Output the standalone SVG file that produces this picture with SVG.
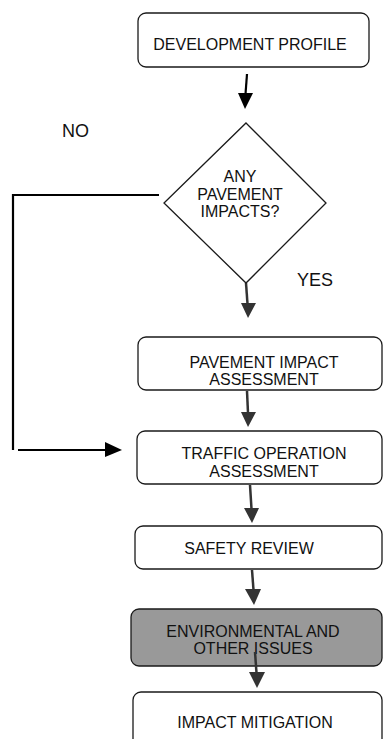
<svg xmlns="http://www.w3.org/2000/svg" width="384" height="739" viewBox="0 0 384 739">
<style>
.box{fill:#fff;stroke:#1a1a1a;stroke-width:1.3}
.gray{fill:#999999}
.t{font-family:"Liberation Sans",Arial,sans-serif;font-size:16px;fill:#111;text-anchor:middle}
.lbl{font-family:"Liberation Sans",Arial,sans-serif;font-size:18px;fill:#111}
.ln{stroke:#333;stroke-width:2.5;fill:none}
.hd{fill:#333}
.lnk{stroke:#000;stroke-width:2.2;fill:none}
.hdk{fill:#000}
</style>
<rect width="384" height="739" fill="#fff"/>
<g id="connectors">
<line class="lnk" x1="247" y1="74" x2="245.5" y2="94"/>
<polygon class="hdk" points="238,93 253,93 245,109"/>
<line class="ln" x1="246" y1="283" x2="247.5" y2="304"/>
<polygon class="hd" points="241,303 256,303 248,318"/>
<line class="ln" x1="247" y1="391" x2="248" y2="413"/>
<polygon class="hd" points="241,412 256,412 248,427"/>
<line class="ln" x1="250" y1="485" x2="251.5" y2="509"/>
<polygon class="hd" points="244,508 259,508 252,523"/>
<line class="ln" x1="252" y1="570" x2="253.5" y2="590"/>
<polygon class="hd" points="245,589 261,589 254,605"/>
<polyline class="lnk" points="159,195 13,195 13,450"/>
<line class="lnk" x1="18" y1="450" x2="106" y2="450"/>
<polygon class="hdk" points="105,442 105,457 122,450"/>
</g>
<g id="n-dev">
<rect class="box" x="138" y="13" width="231" height="54" rx="8"/>
<text class="t" x="250" y="50">DEVELOPMENT PROFILE</text>
</g>
<g id="n-decision">
<polygon class="box" points="246,123 326,203 246,283 164,203"/>
<text class="t" x="240" y="182">ANY</text>
<text class="t" x="240" y="199.5">PAVEMENT</text>
<text class="t" x="240" y="217">IMPACTS?</text>
</g>
<g id="label-no"><text class="lbl" x="62" y="137">NO</text></g>
<g id="label-yes"><text class="lbl" x="297" y="286">YES</text></g>
<g id="n-pavement">
<rect class="box" x="138" y="337" width="244" height="53" rx="8"/>
<text class="t" x="264" y="368">PAVEMENT IMPACT</text>
<text class="t" x="264" y="385">ASSESSMENT</text>
</g>
<g id="n-traffic">
<rect class="box" x="137" y="431" width="245" height="53" rx="8"/>
<text class="t" x="264" y="459">TRAFFIC OPERATION</text>
<text class="t" x="264" y="477">ASSESSMENT</text>
</g>
<g id="n-safety">
<rect class="box" x="135" y="526" width="247" height="43" rx="8"/>
<text class="t" x="249" y="554">SAFETY REVIEW</text>
</g>
<g id="n-env">
<rect class="box gray" x="131" y="609" width="251" height="57" rx="8"/>
<text class="t" x="253" y="637">ENVIRONMENTAL AND</text>
<text class="t" x="253" y="654">OTHER ISSUES</text>
</g>
<g id="connector-env">
<line class="ln" x1="255" y1="652" x2="256.5" y2="673"/>
<polygon class="hd" points="249,672 265,672 257,688"/>
</g>
<g id="n-mitigation">
<rect class="box" x="133" y="692" width="249" height="62" rx="8"/>
<text class="t" x="255" y="728">IMPACT MITIGATION</text>
</g>
</svg>
